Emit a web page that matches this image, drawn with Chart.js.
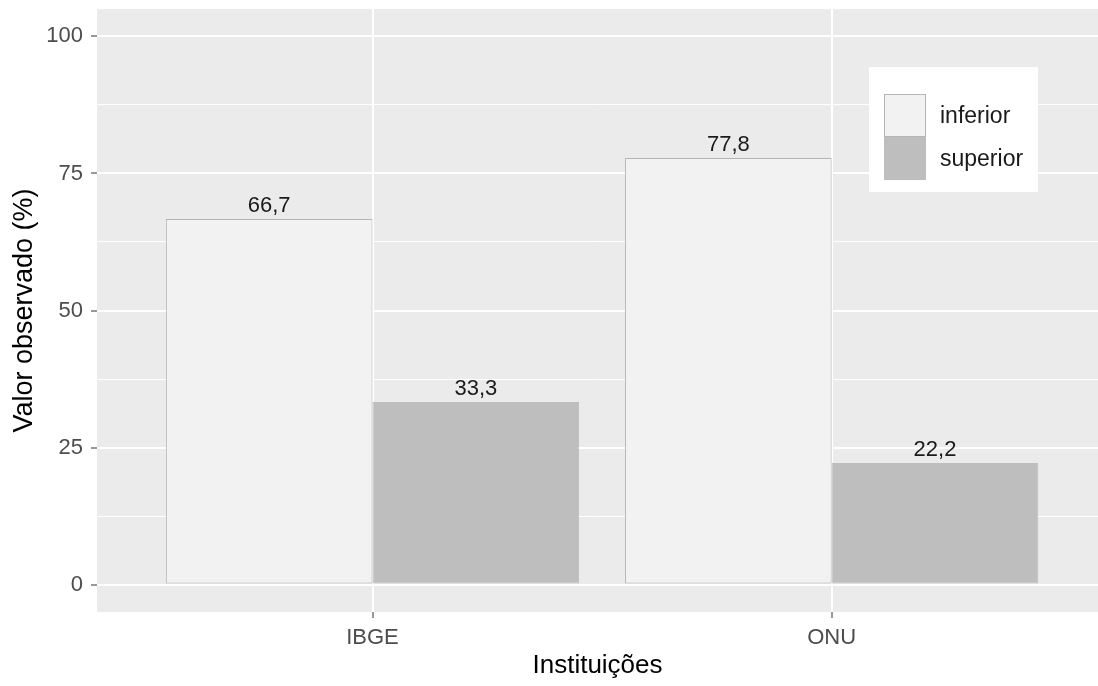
<!DOCTYPE html>
<html>
<head>
<meta charset="utf-8">
<script src="https://cdn.jsdelivr.net/npm/chart.js@4.4.1/dist/chart.umd.min.js"></script>
<style>
  html, body { margin: 0; padding: 0; background: #ffffff; overflow: hidden; }
  #wrap { position: relative; width: 1098px; height: 686px; }
</style>
</head>
<body>
<div id="wrap"><canvas id="c" width="1098" height="686"></canvas></div>
<script>
// ---- data ----
const categories = ['IBGE', 'ONU'];
const seriesNames = ['inferior', 'superior'];
const inferiorValues = [66.7, 77.8];
const superiorValues = [33.3, 22.2];
const yMajorTicks = [0, 25, 50, 75, 100];
const yMinorTicks = [12.5, 37.5, 62.5, 87.5];
const xTitle = 'Instituições';
const yTitle = 'Valor observado (%)';

const FONT = "'Liberation Sans', Arial, sans-serif";
const fills = ['#F2F2F2', '#BEBEBE'];
const borders = ['#B5B5B5', '#BEBEBE'];

function toPoints(vals) { return vals.map((v, i) => ({ x: i + 1, y: v })); }
const seriesValues = [inferiorValues, superiorValues];

const panelBg = {
  id: 'panelBg',
  beforeDraw(chart) {
    const { ctx, chartArea: a } = chart;
    ctx.save();
    ctx.fillStyle = '#EBEBEB';
    ctx.fillRect(a.left, a.top, a.right - a.left, a.bottom - a.top);
    ctx.restore();
  }
};

const valueLabels = {
  id: 'valueLabels',
  afterDatasetsDraw(chart) {
    const ctx = chart.ctx;
    ctx.save();
    ctx.font = '22px ' + FONT;
    ctx.fillStyle = '#1A1A1A';
    ctx.textAlign = 'center';
    ctx.textBaseline = 'alphabetic';
    chart.data.datasets.forEach((ds, di) => {
      const meta = chart.getDatasetMeta(di);
      meta.data.forEach((bar, i) => {
        const v = ds.data[i].y;
        const txt = v.toFixed(1).replace('.', ',');
        ctx.fillText(txt, bar.x, bar.y - 7);
      });
    });
    ctx.restore();
  }
};

const boxLegend = {
  id: 'boxLegend',
  afterDraw(chart) {
    const ctx = chart.ctx;
    const left = 869, top = 67, w = 169, h = 125;
    ctx.save();
    ctx.fillStyle = '#FFFFFF';
    ctx.fillRect(left, top, w, h);
    const kx = 884, ky = 94, kw = 42, kh = 43;
    chart.data.datasets.forEach((ds, i) => {
      const y = ky + i * kh;
      ctx.fillStyle = ds.backgroundColor;
      ctx.fillRect(kx, y, kw, kh);
      if (i === 0) {
        ctx.strokeStyle = ds.borderColor;
        ctx.lineWidth = 1;
        ctx.strokeRect(kx + 0.5, y + 0.5, kw - 1, kh - 1);
      }
      ctx.fillStyle = '#1A1A1A';
      ctx.font = '23px ' + FONT;
      ctx.textAlign = 'left';
      ctx.textBaseline = 'middle';
      ctx.fillText(ds.label, 940, y + kh / 2 + 1);
    });
    ctx.restore();
  }
};

function noOverhang(scale) {
  scale.paddingTop = 0; scale.paddingBottom = 0;
  scale.paddingLeft = 0; scale.paddingRight = 0;
}

new Chart(document.getElementById('c'), {
  type: 'bar',
  data: {
    datasets: seriesNames.map((name, i) => ({
      label: name,
      data: toPoints(seriesValues[i]),
      backgroundColor: fills[i],
      borderColor: borders[i],
      borderWidth: 1,
      borderSkipped: false,
      barPercentage: 1,
      categoryPercentage: 0.9
    }))
  },
  options: {
    responsive: false,
    animation: false,
    devicePixelRatio: 1,
    layout: { padding: { top: 9, right: 0, left: 0, bottom: 0 } },
    plugins: { legend: { display: false }, tooltip: { enabled: false } },
    scales: {
      x: {
        type: 'linear',
        min: 0.4,
        max: 2.58,
        offset: false,
        afterBuildTicks(scale) { scale.ticks = categories.map((c, i) => ({ value: i + 1 })); },
        afterFit(scale) { scale.height = 74; noOverhang(scale); },
        ticks: {
          autoSkip: false,
          maxRotation: 0,
          padding: 7,
          color: '#4D4D4D',
          font: { family: FONT, size: 22 },
          callback: (v) => categories[Math.round(v) - 1]
        },
        grid: {
          offset: false,
          color: '#FFFFFF',
          lineWidth: 2,
          tickColor: '#333333',
          tickWidth: 1,
          tickLength: 6
        },
        border: { display: false },
        title: {
          display: true,
          text: xTitle,
          color: '#000000',
          font: { family: FONT, size: 26 },
          padding: { top: 0, bottom: 5 }
        }
      },
      y: {
        min: -5,
        max: 105,
        afterBuildTicks(scale) {
          scale.ticks = yMajorTicks.concat(yMinorTicks).map(v => ({ value: v }));
        },
        afterFit(scale) { scale.width = 97; noOverhang(scale); },
        ticks: {
          autoSkip: false,
          padding: 8,
          color: '#4D4D4D',
          font: { family: FONT, size: 22 },
          callback: (v) => yMajorTicks.includes(v) ? String(v) : ''
        },
        grid: {
          color: '#FFFFFF',
          lineWidth: (ctx) => (ctx.tick && yMajorTicks.includes(ctx.tick.value)) ? 2 : 1,
          tickColor: (ctx) => (ctx.tick && yMajorTicks.includes(ctx.tick.value)) ? '#333333' : 'rgba(0,0,0,0)',
          tickWidth: 1,
          tickLength: 6
        },
        border: { display: false },
        title: {
          display: true,
          text: yTitle,
          color: '#000000',
          font: { family: FONT, size: 27 },
          padding: { top: 8, bottom: 0 }
        }
      }
    }
  },
  plugins: [panelBg, valueLabels, boxLegend]
});
</script>
</body>
</html>
